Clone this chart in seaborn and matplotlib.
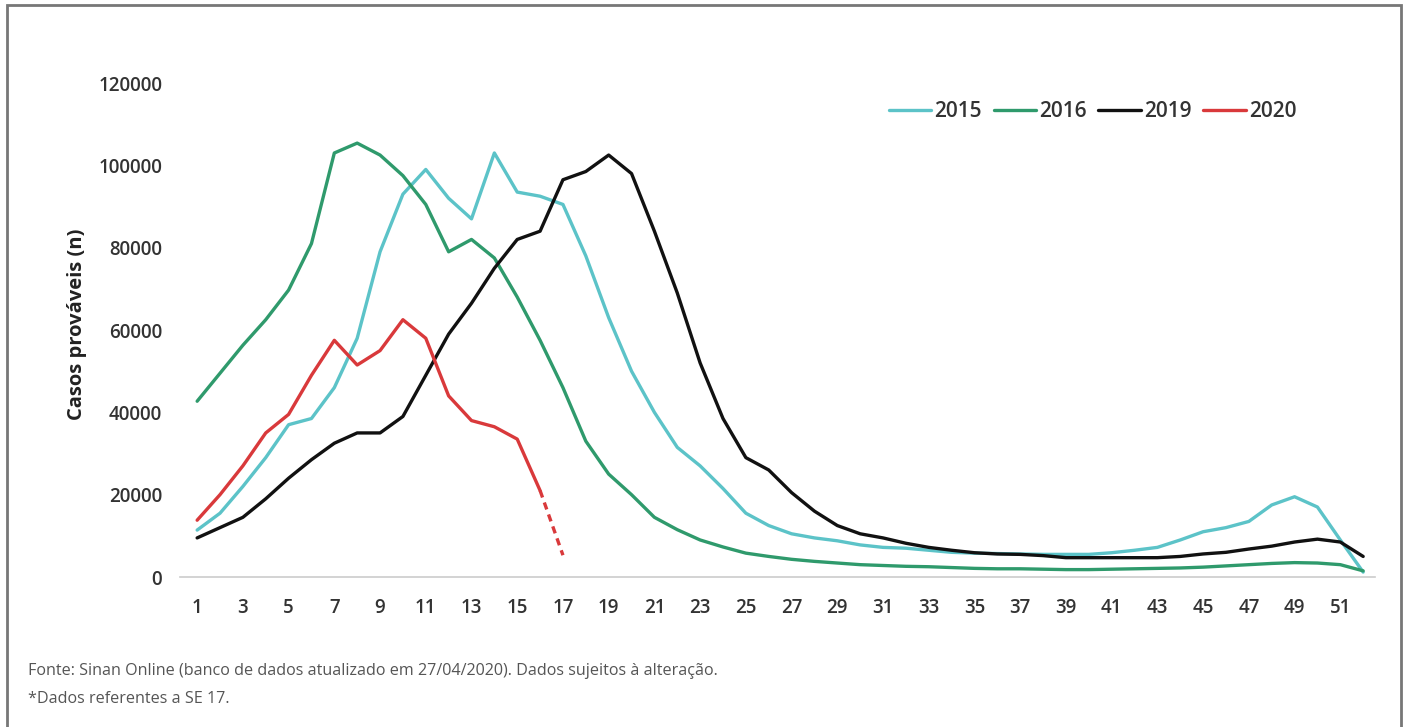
import numpy as np
import pandas as pd
import matplotlib
matplotlib.use("Agg")
import matplotlib.pyplot as plt
import seaborn as sns
from matplotlib.patches import Rectangle

weeks = list(range(1, 53))

cases_2015 = [11400, 15500, 22000, 29000, 37000, 38500, 46000, 58000, 79000, 93000,
              99000, 92000, 87000, 103000, 93500, 92500, 90500, 78000, 63000, 50000,
              40000, 31500, 27000, 21500, 15500, 12500, 10500, 9500, 8800, 7800,
              7200, 7000, 6500, 6000, 5800, 5700, 5600, 5500, 5500, 5500,
              5900, 6500, 7200, 9000, 11000, 12000, 13500, 17500, 19500, 17000,
              9000, 1200]
cases_2016 = [42700, 49500, 56300, 62500, 69700, 81000, 103000, 105400, 102500, 97500,
              90500, 79000, 82000, 77500, 68000, 57500, 46000, 33000, 25000, 20000,
              14500, 11500, 9000, 7300, 5800, 5000, 4300, 3800, 3400, 3000,
              2800, 2600, 2500, 2300, 2100, 2000, 2000, 1900, 1800, 1800,
              1900, 2000, 2100, 2200, 2400, 2700, 3000, 3300, 3500, 3400,
              3000, 1500]
cases_2019 = [9500, 12000, 14500, 19000, 24000, 28500, 32500, 35000, 35000, 39000,
              49000, 59000, 66500, 75000, 82000, 84000, 96500, 98500, 102500, 98000,
              84000, 69000, 52000, 38500, 29000, 26000, 20500, 16000, 12500, 10500,
              9500, 8200, 7200, 6500, 5900, 5600, 5500, 5200, 4700, 4700,
              4700, 4700, 4700, 5000, 5600, 6000, 6800, 7500, 8500, 9200,
              8500, 5000]
# 2020: weeks 1-16 solid, week 17 (partial data) dashed
cases_2020 = [13800, 20000, 27000, 35000, 39500, 49000, 57500, 51500, 55000, 62500,
              58000, 44000, 38000, 36500, 33500, 21000, 5300]

years = ["2015", "2016", "2019", "2020"]
colors = {"2015": "#5cc3c8", "2016": "#2f9a6c", "2019": "#111111", "2020": "#d9393b"}

x_ticks = list(range(1, 52, 2))
y_ticks = list(range(0, 120001, 20000))

frames = [
    pd.DataFrame({"week": weeks, "cases": cases_2015, "year": "2015"}),
    pd.DataFrame({"week": weeks, "cases": cases_2016, "year": "2016"}),
    pd.DataFrame({"week": weeks, "cases": cases_2019, "year": "2019"}),
    pd.DataFrame({"week": weeks[:16], "cases": cases_2020[:16], "year": "2020"}),
]
df = pd.concat(frames, ignore_index=True)

sns.set_theme(style="white")
plt.rcParams["font.family"] = ["Open Sans", "DejaVu Sans"]

fig = plt.figure(figsize=(14.08, 7.27), dpi=100)
ax = fig.add_axes([0.128, 0.2063, 0.8486, 0.7135])

sns.lineplot(data=df, x="week", y="cases", hue="year", hue_order=years,
             palette=colors, linewidth=2.4, ax=ax, legend=True)
for line in ax.lines:
    line.set_solid_joinstyle("round")
    line.set_solid_capstyle("round")

# dashed tail for 2020 (incomplete data)
ax.plot(weeks[15:17], cases_2020[15:17], color=colors["2020"], linewidth=2.4,
        linestyle=(0, (2.2, 1.6)))

ax.set_xlim(0.26, 52.52)
ax.set_ylim(0, 126000)
ax.set_xticks(x_ticks)
ax.set_xticklabels([str(t) for t in x_ticks])
ax.set_yticks(y_ticks)
ax.set_yticklabels([str(t) for t in y_ticks])
ax.tick_params(axis="both", length=0, labelsize=13.5, labelcolor="#333333")
ax.tick_params(axis="x", pad=15)
ax.tick_params(axis="y", pad=13)
for lab in ax.get_xticklabels() + ax.get_yticklabels():
    lab.set_fontweight("semibold")

ax.set_xlabel("")
ax.set_ylabel("Casos prováveis (n)", fontsize=14.5, fontweight="bold",
              color="#222222")
ax.yaxis.set_label_coords(-0.078, 0.488)

for s in ["top", "right", "left"]:
    ax.spines[s].set_visible(False)
ax.spines["bottom"].set_color("#cccccc")
ax.spines["bottom"].set_linewidth(1.2)

leg = ax.legend(loc="upper right", bbox_to_anchor=(0.95, 0.953), ncol=4,
                frameon=False, handlelength=2.05, handletextpad=0.15,
                columnspacing=0.55, prop={"size": 15, "weight": "semibold"})
for txt in leg.get_texts():
    txt.set_color("#333333")

fig.text(0.02, 0.071, "Fonte: Sinan Online (banco de dados atualizado em 27/04/2020). Dados sujeitos à alteração.",
         fontsize=11.6, color="#555555")
fig.text(0.02, 0.033, "*Dados referentes a SE 17.",
         fontsize=11.6, color="#555555")

fig.patches.append(Rectangle((0.005, -0.05), 0.99, 1.043, transform=fig.transFigure,
                             fill=False, edgecolor="#777777", linewidth=2))

fig.savefig("out.png", dpi=100)
